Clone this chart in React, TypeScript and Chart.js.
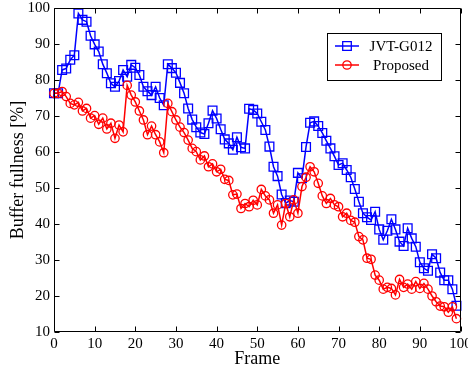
import React, { useEffect, useRef } from "react";
import { Chart, registerables } from "chart.js";

Chart.register(...registerables);

const frames = [
  0, 1, 2, 3, 4, 5, 6, 7, 8, 9, 10, 11, 12, 13, 14, 15, 16, 17, 18, 19,
  20, 21, 22, 23, 24, 25, 26, 27, 28, 29, 30, 31, 32, 33, 34, 35, 36, 37, 38, 39,
  40, 41, 42, 43, 44, 45, 46, 47, 48, 49, 50, 51, 52, 53, 54, 55, 56, 57, 58, 59,
  60, 61, 62, 63, 64, 65, 66, 67, 68, 69, 70, 71, 72, 73, 74, 75, 76, 77, 78, 79,
  80, 81, 82, 83, 84, 85, 86, 87, 88, 89, 90, 91, 92, 93, 94, 95, 96, 97, 98, 99,
];

const jvtG012 = [
  76.3, 76.3, 82.8, 83.2, 85.6, 86.9, 98.5, 96.7, 96.2, 92.3,
  89.9, 87.9, 84.4, 81.9, 79.1, 78.1, 79.7, 82.8, 80.9, 84.2,
  83.4, 81.4, 78.1, 76.9, 75.8, 78.1, 75.0, 73.0, 84.4, 83.3,
  82.0, 79.2, 76.3, 72.1, 69.0, 66.9, 65.4, 65.0, 68.0, 71.5,
  69.3, 66.3, 63.5, 62.4, 60.6, 64.1, 61.3, 61.0, 72.0, 71.7,
  70.7, 68.4, 66.1, 61.5, 55.9, 53.3, 48.2, 45.8, 46.5, 46.2,
  54.2, 52.7, 61.4, 68.1, 68.5, 67.2, 65.3, 63.1, 61.0, 58.8,
  56.4, 56.9, 55.0, 53.0, 49.7, 46.2, 43.0, 41.9, 41.1, 43.4,
  38.5, 35.6, 38.1, 41.3, 38.5, 35.1, 33.9, 38.8, 36.0, 33.7,
  29.4, 27.7, 27.0, 31.6, 30.5, 26.5, 24.4, 24.4, 21.9, 17.3,
];

const proposed = [
  76.3, 76.3, 76.8, 75.4, 73.5, 73.1, 73.8, 71.4, 72.1, 69.4,
  70.1, 67.7, 69.4, 66.4, 68.0, 63.8, 67.5, 65.6, 78.5, 75.8,
  73.9, 71.4, 68.9, 64.8, 67.2, 64.8, 62.8, 59.8, 73.5, 71.2,
  68.9, 66.9, 65.4, 63.3, 61.0, 60.1, 57.8, 58.9, 55.9, 56.7,
  54.5, 55.2, 52.4, 52.1, 48.1, 48.3, 44.3, 45.7, 44.8, 46.6,
  45.3, 49.6, 47.8, 46.7, 43.0, 45.3, 39.7, 45.7, 42.0, 46.7,
  43.0, 50.4, 53.0, 55.9, 54.5, 51.3, 47.8, 45.7, 47.1, 45.3,
  44.8, 42.0, 43.0, 41.0, 40.5, 36.5, 35.6, 30.5, 30.2, 25.8,
  24.4, 21.9, 22.4, 22.1, 20.3, 24.6, 22.4, 23.3, 21.9, 24.0,
  22.1, 23.5, 21.9, 20.0, 18.4, 17.2, 17.0, 15.5, 17.0, 13.7,
];

const xTicks = [0, 10, 20, 30, 40, 50, 60, 70, 80, 90, 100];
const yTicks = [10, 20, 30, 40, 50, 60, 70, 80, 90, 100];
const seriesLabels = ["JVT-G012", "Proposed"];
const xTitle = "Frame";
const yTitle = "Buffer fullness [%]";

const FONT = "'Liberation Serif', 'Times New Roman', Times, serif";
const BLUE = "#0000ff";
const RED = "#ff0000";

export default function App() {
  const ref = useRef<HTMLCanvasElement | null>(null);

  useEffect(() => {
    document.body.style.margin = "0";
    const canvas = ref.current;
    if (!canvas) return;

    const boxPlugin = {
      id: "matlabBox",
      afterDraw(chart: any) {
        const ctx = chart.ctx as CanvasRenderingContext2D;
        const { left, right, top, bottom } = chart.chartArea;
        const xs = chart.scales.x;
        const ys = chart.scales.y;
        ctx.save();
        ctx.strokeStyle = "#000";
        ctx.lineWidth = 1;
        const L = Math.round(left) + 0.5;
        const R = Math.round(right) - 0.5;
        const T = Math.round(top) + 0.5;
        const B = Math.round(bottom) - 0.5;
        ctx.beginPath();
        ctx.rect(L, T, R - L, B - T);
        ctx.stroke();
        const tl = 5;
        ctx.beginPath();
        xTicks.forEach((v) => {
          const px = Math.round(xs.getPixelForValue(v)) + 0.5;
          ctx.moveTo(px, B);
          ctx.lineTo(px, B - tl);
          ctx.moveTo(px, T);
          ctx.lineTo(px, T + tl);
        });
        yTicks.forEach((v) => {
          const py = Math.round(ys.getPixelForValue(v)) + 0.5;
          ctx.moveTo(L, py);
          ctx.lineTo(L + tl, py);
          ctx.moveTo(R, py);
          ctx.lineTo(R - tl, py);
        });
        ctx.stroke();

        // legend
        const lx = 327.5, ly = 33.5, lw = 114, lh = 47;
        ctx.fillStyle = "#fff";
        ctx.fillRect(lx, ly, lw, lh);
        ctx.strokeStyle = "#000";
        ctx.lineWidth = 1;
        ctx.strokeRect(lx, ly, lw, lh);
        const rows = [46, 65];
        chart.data.datasets.forEach((ds: any, i: number) => {
          const y = rows[i];
          ctx.strokeStyle = ds.borderColor;
          ctx.lineWidth = 1.5;
          ctx.beginPath();
          ctx.moveTo(335, y);
          ctx.lineTo(359, y);
          ctx.stroke();
          ctx.lineWidth = 1.3;
          ctx.beginPath();
          if (i === 0) {
            ctx.rect(347 - 4.3, y - 4.3, 8.6, 8.6);
          } else {
            ctx.arc(347, y, 4.2, 0, Math.PI * 2);
          }
          ctx.stroke();
          ctx.fillStyle = "#000";
          ctx.font = `15px ${FONT}`;
          ctx.textAlign = "center";
          ctx.textBaseline = "middle";
          ctx.fillText(ds.label, 401, y + 1);
        });
        ctx.restore();
      },
    };

    const chart = new Chart(canvas, {
      type: "line",
      data: {
        datasets: [
          {
            label: seriesLabels[0],
            data: frames.map((f, i) => ({ x: f, y: jvtG012[i] })),
            borderColor: BLUE,
            backgroundColor: "rgba(0,0,0,0)",
            borderWidth: 1.5,
            pointStyle: "rect",
            pointRadius: 6.2,
            pointBorderWidth: 1.3,
            pointBorderColor: BLUE,
            pointBackgroundColor: "rgba(0,0,0,0)",
            tension: 0,
            clip: false,
            order: 1,
          },
          {
            label: seriesLabels[1],
            data: frames.map((f, i) => ({ x: f, y: proposed[i] })),
            borderColor: RED,
            backgroundColor: "rgba(0,0,0,0)",
            borderWidth: 1.5,
            pointStyle: "circle",
            pointRadius: 4.2,
            pointBorderWidth: 1.3,
            pointBorderColor: RED,
            pointBackgroundColor: "rgba(0,0,0,0)",
            tension: 0,
            clip: false,
            order: 0,
          },
        ],
      },
      options: {
        responsive: false,
        animation: false,
        devicePixelRatio: 1,
        layout: { padding: { top: 8, right: 5, left: 0, bottom: 0 } },
        plugins: {
          legend: { display: false },
          tooltip: { enabled: false },
        },
        scales: {
          x: {
            type: "linear",
            min: 0,
            max: 100,
            afterBuildTicks: (s: any) => {
              s.ticks = xTicks.map((v) => ({ value: v }));
            },
            grid: { display: false, drawTicks: false },
            border: { display: false },
            ticks: {
              font: { family: FONT, size: 15 },
              color: "#000",
              padding: 3,
              maxRotation: 0,
              autoSkip: false,
            },
            title: {
              display: true,
              text: xTitle,
              font: { family: FONT, size: 18 },
              color: "#000",
              padding: { top: 0, bottom: 2 },
            },
            afterFit: (s: any) => {
              s.height = 40;
              s.paddingLeft = 0;
              s.paddingRight = 0;
            },
          },
          y: {
            type: "linear",
            min: 10,
            max: 100,
            afterBuildTicks: (s: any) => {
              s.ticks = yTicks.map((v) => ({ value: v }));
            },
            grid: { display: false, drawTicks: false },
            border: { display: false },
            ticks: {
              font: { family: FONT, size: 15 },
              color: "#000",
              padding: 4,
              autoSkip: false,
            },
            title: {
              display: true,
              text: yTitle,
              font: { family: FONT, size: 18 },
              color: "#000",
              padding: { top: 7, bottom: 0 },
            },
            afterFit: (s: any) => {
              s.width = 54;
              s.paddingTop = 0;
              s.paddingBottom = 0;
            },
          },
        },
      },
      plugins: [boxPlugin],
    });

    return () => chart.destroy();
  }, []);

  return (
    <div style={{ width: 468, height: 372 }}>
      <canvas ref={ref} width={468} height={372} style={{ display: "block" }} />
    </div>
  );
}
